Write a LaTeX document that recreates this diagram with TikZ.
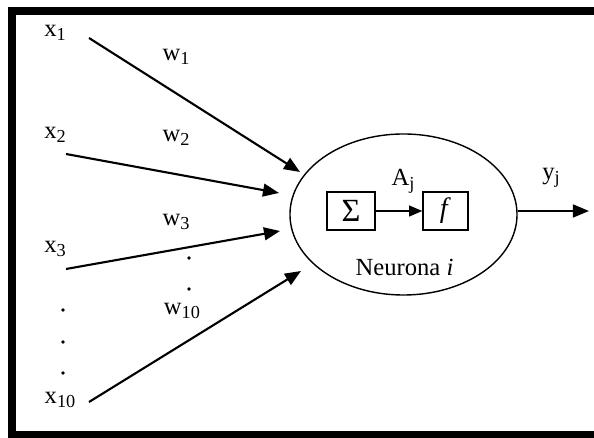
\documentclass[tikz,border=0pt]{standalone}
\usepackage{fontspec}
\setmainfont{Liberation Serif}
\usetikzlibrary{positioning}
\usetikzlibrary{arrows.meta}
\usetikzlibrary{shapes.geometric}

\newcommand{\idx}[1]{\raisebox{-0.35ex}{\fontsize{13}{13}\selectfont #1}}

\begin{document}
\begin{tikzpicture}[
    x=0.025cm, y=-0.025cm,
    font=\fontsize{17.5}{20}\selectfont,
    lbl/.style={inner sep=0pt},
    wire/.style={line width=1.5pt, -{Triangle[length=0.4cm, width=0.32cm]}},
    box/.style={draw, line width=1pt, minimum height=0.95cm, inner sep=0pt},
    dotmark/.style={circle, fill, inner sep=0pt, minimum size=2.6pt}
]

\useasboundingbox (0,0) rectangle (594,438);
\clip (0,0) rectangle (594,438);

% Frame
\draw[line width=0.2cm] (600,11) -- (12,11) -- (12,435) -- (600,435);

% Inputs
\node[lbl] (x1) at (55,33) {x\idx{1}};
\node[lbl] (x2) at (55,135) {x\idx{2}};
\node[lbl] (x3) at (55,249) {x\idx{3}};
\node[lbl] (x10) at (60,400) {x\idx{10}};
\node[dotmark] (d1) at (63,310) {};
\node[dotmark] (d2) at (63,342) {};
\node[dotmark] (d3) at (63,373) {};

% Weights
\node[lbl] (w1) at (176,57) {w\idx{1}};
\node[lbl] (w2) at (176,138) {w\idx{2}};
\node[lbl] (w3) at (176,222) {w\idx{3}};
\node[lbl] (w10) at (182,311) {w\idx{10}};
\node[dotmark] (d4) at (189,258) {};
\node[dotmark] (d5) at (189,289) {};

% Neuron
\node[ellipse, draw, line width=1pt, minimum width=5.675cm, minimum height=4.025cm] (neuron) at (403.5,214.5) {};
\node[box, minimum width=1.2cm, font=\fontsize{23}{24}\selectfont] (sum) at (351,211) {Σ};
\node[box, minimum width=1.125cm, font=\fontsize{20}{22}\selectfont] (act) at (445.5,211) {\textit{f}};
\node[lbl] (aj) at (403,181) {A\idx{j}};
\node[lbl] (lblN) at (404.5,267) {Neurona \textit{i}};
\node[lbl] (yj) at (551,178) {y\idx{j}};

% Connector ends
\coordinate (s1) at (89,38);
\coordinate (s2) at (66,154);
\coordinate (s3) at (66,269);
\coordinate (s10) at (89,402);
\coordinate (t1) at (300,172);
\coordinate (t2) at (279,193);
\coordinate (t3) at (280,231);
\coordinate (t10) at (301,271);
\coordinate (out) at (589,211);

% Connections
\draw[wire] (s1) -- (t1);
\draw[wire] (s2) -- (t2);
\draw[wire] (s3) -- (t3);
\draw[wire] (s10) -- (t10);
\draw[line width=1.3pt, -{Triangle[length=0.33cm, width=0.27cm]}] (sum) -- (act);
\draw[wire] (neuron.east |- out) -- (out);

\end{tikzpicture}
\end{document}
